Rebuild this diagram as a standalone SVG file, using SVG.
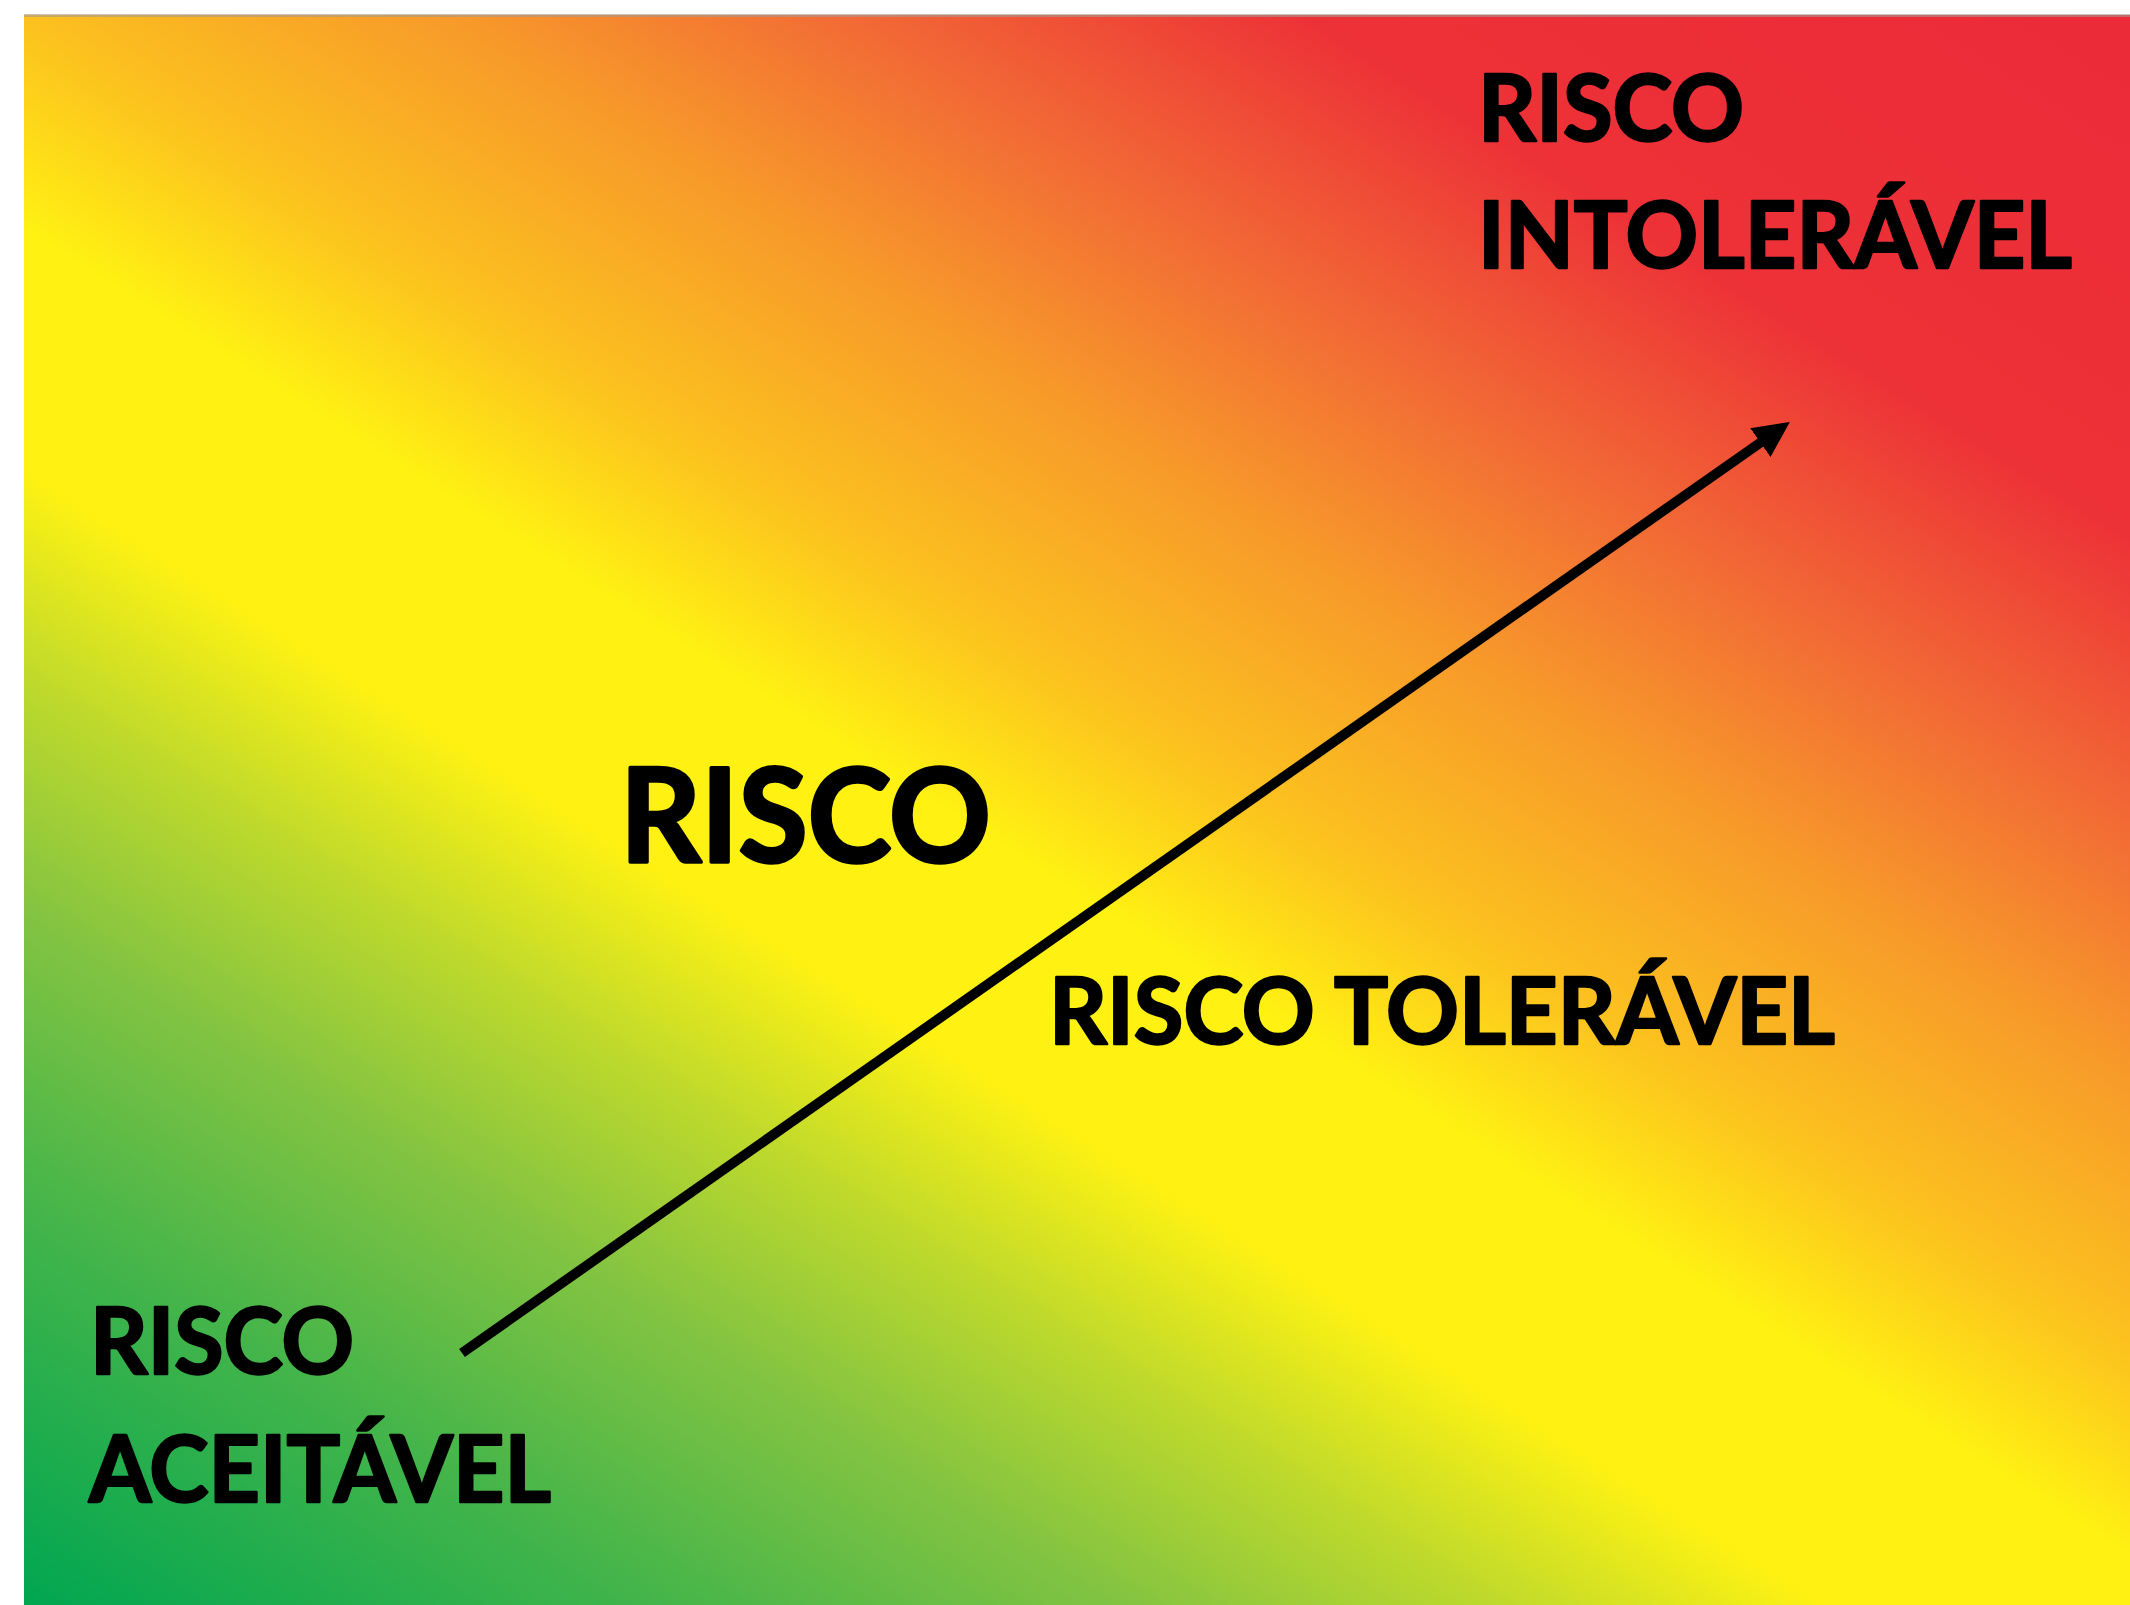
<svg xmlns="http://www.w3.org/2000/svg" width="2130" height="1605" viewBox="0 0 2130 1605">
  <defs>
    <linearGradient id="riskGrad" gradientUnits="userSpaceOnUse" x1="24" y1="1605" x2="1340" y2="-484">
      <stop offset="0" stop-color="#00a651"/>
      <stop offset="0.14" stop-color="#45b54a"/>
      <stop offset="0.24" stop-color="#84c441"/>
      <stop offset="0.32" stop-color="#c0da2b"/>
      <stop offset="0.39" stop-color="#fff212"/>
      <stop offset="0.47" stop-color="#fff212"/>
      <stop offset="0.54" stop-color="#fcc31e"/>
      <stop offset="0.64" stop-color="#f7982a"/>
      <stop offset="0.72" stop-color="#f26b35"/>
      <stop offset="0.82" stop-color="#ed3237"/>
      <stop offset="1" stop-color="#ec2a38"/>
    </linearGradient>
    <marker id="arrowHead" markerUnits="userSpaceOnUse" markerWidth="40" markerHeight="40" viewBox="0 -20 40 40" refX="2" refY="0" orient="auto">
      <path d="M0,-17.6 L36,0 L0,17.6 Z" fill="#000"/>
    </marker>
  </defs>
  <style>
    .lbl { font-family: Lato, "Open Sans", "Liberation Sans", sans-serif; font-weight: 700; fill: #000; stroke: #000; stroke-linejoin: round; }
    .sm { font-size: 92px; stroke-width: 2.5; }
    .lg { font-size: 130px; stroke-width: 3.5; }
    .conn { stroke: #000; stroke-width: 10; fill: none; }
  </style>

  <g id="background">
    <rect x="0" y="0" width="2130" height="1605" fill="#ffffff"/>
    <rect x="24" y="15" width="2106" height="1590" fill="url(#riskGrad)"/>
    <rect x="24" y="14" width="2106" height="3" fill="#a89a8f" opacity="0.6"/>
  </g>

  <g id="connectors">
    <line class="conn" x1="462" y1="1353" x2="1762" y2="441.5" marker-end="url(#arrowHead)"/>
  </g>

  <g id="risco-intoleravel">
    <text class="lbl sm" x="1478" y="141" textLength="266" lengthAdjust="spacingAndGlyphs">RISCO</text>
    <text class="lbl sm" x="1478" y="268" textLength="594" lengthAdjust="spacingAndGlyphs">INTOLERÁVEL</text>
  </g>

  <g id="risco">
    <text class="lbl lg" x="620" y="862" textLength="371" lengthAdjust="spacingAndGlyphs">RISCO</text>
  </g>

  <g id="risco-toleravel">
    <text class="lbl sm" x="1049" y="1044" textLength="786" lengthAdjust="spacingAndGlyphs">RISCO TOLERÁVEL</text>
  </g>

  <g id="risco-aceitavel">
    <text class="lbl sm" x="90" y="1374" textLength="264" lengthAdjust="spacingAndGlyphs">RISCO</text>
    <text class="lbl sm" x="89" y="1502" textLength="462" lengthAdjust="spacingAndGlyphs">ACEITÁVEL</text>
  </g>
</svg>
